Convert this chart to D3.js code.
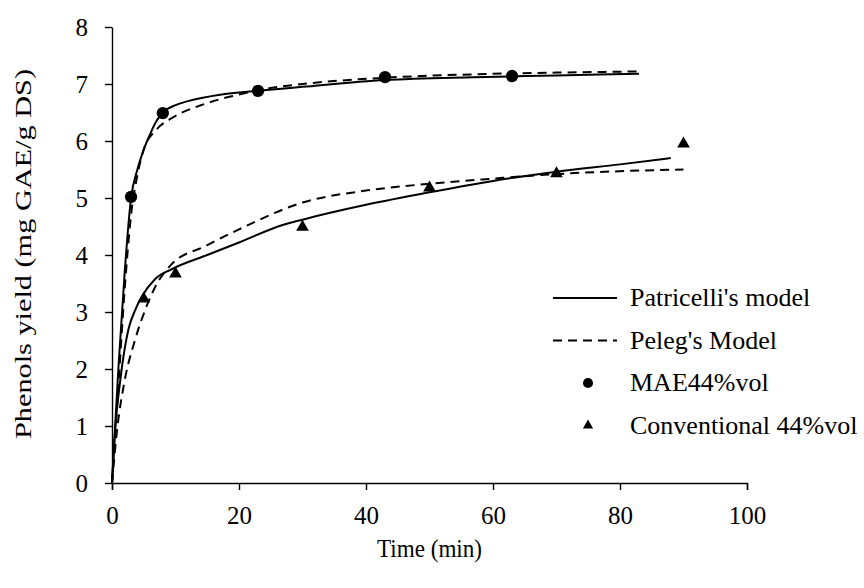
<!DOCTYPE html>
<html>
<head>
<meta charset="utf-8">
<script src="https://cdn.jsdelivr.net/npm/d3@7"></script>
<style>
  body { margin: 0; background: #fff; }
  text { font-family: "Liberation Serif", "Times New Roman", serif; fill: #000; }
</style>
</head>
<body>
<svg id="chart" width="864" height="588"></svg>
<script>
// measured points
const maeTime = [3, 8, 23, 43, 63]
const maeYield = [5.02, 6.49, 6.88, 7.12, 7.14]
const convTime = [5, 10, 30, 50, 70, 90]
const convYield = [3.23, 3.67, 4.49, 5.18, 5.43, 5.95]

// model curves
const patMaeT = [0, 1, 2, 3, 4, 5, 6, 7, 8, 10, 12, 17, 23, 30, 43, 57, 70, 83]
const patMaeY = [0, 2.0, 3.7, 5.0, 5.5, 5.85, 6.12, 6.35, 6.5, 6.63, 6.7, 6.81, 6.88, 6.95, 7.07, 7.12, 7.15, 7.18]
const pelMaeT = [0, 1, 2, 3, 4, 5, 7, 9.4, 14.6, 21, 25, 30, 43, 57, 70, 83]
const pelMaeY = [0, 1.7, 3.4, 4.7, 5.4, 5.85, 6.2, 6.4, 6.65, 6.84, 6.93, 7.0, 7.11, 7.17, 7.2, 7.22]
const patConvT = [0, 0.5, 1.3, 2.6, 3.6, 4.7, 6.8, 9.4, 15, 20, 27, 30, 40, 50, 60, 70, 80, 88]
const patConvY = [0, 0.93, 1.8, 2.7, 3.02, 3.27, 3.58, 3.75, 4.0, 4.22, 4.53, 4.62, 4.88, 5.1, 5.3, 5.46, 5.59, 5.7]
const pelConvT = [0, 0.8, 2.0, 3.6, 5.2, 6.8, 9.4, 14.6, 20, 30, 40, 50, 60, 70, 80, 90]
const pelConvY = [0, 0.93, 1.8, 2.5, 3.03, 3.44, 3.84, 4.15, 4.45, 4.92, 5.13, 5.25, 5.34, 5.42, 5.47, 5.5]

const xTicks = [0, 20, 40, 60, 80, 100]
const yTicks = [0, 1, 2, 3, 4, 5, 6, 7, 8]

const legendItems = [
    { label: "Patricelli's model", kind: "solid" },
    { label: "Peleg's Model", kind: "dashed" },
    { label: "MAE44%vol", kind: "circle" },
    { label: "Conventional 44%vol", kind: "triangle" }
]

let svg = d3.select("#chart")
let margin = { left: 112, right: 117, top: 27, bottom: 105 }
let width = 864, height = 588

let xScale = d3.scaleLinear().domain([0, 100]).range([margin.left, width - margin.right])
let yScale = d3.scaleLinear().domain([0, 8]).range([height - margin.bottom, margin.top])

// axes
let xAxis = svg.append("g")
    .attr("transform", "translate(0," + yScale(0) + ")")
    .call(d3.axisBottom(xScale).tickValues(xTicks).tickSize(7).tickPadding(16).tickSizeOuter(7))
let yAxis = svg.append("g")
    .attr("transform", "translate(" + xScale(0) + ",0)")
    .call(d3.axisLeft(yScale).tickValues(yTicks).tickSize(7).tickPadding(17).tickSizeOuter(0))

svg.selectAll(".domain, .tick line").attr("stroke", "#000").attr("stroke-width", 1.4)
svg.selectAll(".tick text")
    .style("font-family", "'Liberation Serif', serif")
    .style("font-size", "25px")
    .attr("fill", "#000")

// axis titles
svg.append("text")
    .attr("x", (xScale(0) + xScale(100)) / 2)
    .attr("y", 557)
    .attr("text-anchor", "middle")
    .attr("textLength", 105)
    .attr("lengthAdjust", "spacingAndGlyphs")
    .style("font-size", "25px")
    .text("Time (min)")
svg.append("text")
    .attr("transform", "rotate(-90)")
    .attr("x", -254)
    .attr("y", 31)
    .attr("text-anchor", "middle")
    .attr("textLength", 370)
    .attr("lengthAdjust", "spacingAndGlyphs")
    .style("font-size", "24px")
    .text("Phenols yield (mg GAE/g DS)")

// curves
let line = d3.line()
    .x(d => xScale(d[0]))
    .y(d => yScale(d[1]))
    .curve(d3.curveMonotoneX)

function drawCurve(ts, ys, dashed) {
    svg.append("path")
        .datum(d3.zip(ts, ys))
        .attr("d", line)
        .attr("fill", "none")
        .attr("stroke", "#000")
        .attr("stroke-width", 2)
        .attr("stroke-dasharray", dashed ? "9,6" : null)
}
drawCurve(pelMaeT, pelMaeY, true)
drawCurve(pelConvT, pelConvY, true)
drawCurve(patMaeT, patMaeY, false)
drawCurve(patConvT, patConvY, false)

// markers
svg.append("g").selectAll("path")
    .data(d3.zip(maeTime, maeYield))
    .join("path")
    .attr("transform", d => "translate(" + xScale(d[0]) + "," + yScale(d[1]) + ")")
    .attr("d", d3.symbol(d3.symbolCircle, 120))
    .attr("fill", "#000")
svg.append("g").selectAll("path")
    .data(d3.zip(convTime, convYield))
    .join("path")
    .attr("transform", d => "translate(" + xScale(d[0]) + "," + yScale(d[1]) + ")")
    .attr("d", d3.symbol(d3.symbolTriangle, 70))
    .attr("fill", "#000")

// legend
let legend = svg.append("g").attr("transform", "translate(553,298)")
legendItems.forEach(function (item, i) {
    let g = legend.append("g").attr("transform", "translate(0," + (i * 42.5) + ")")
    if (item.kind == "solid" || item.kind == "dashed") {
        g.append("line")
            .attr("x1", 0).attr("x2", 64)
            .attr("stroke", "#000").attr("stroke-width", 2)
            .attr("stroke-dasharray", item.kind == "dashed" ? "9,6" : null)
    } else {
        g.append("path")
            .attr("transform", "translate(35,0)")
            .attr("d", d3.symbol(item.kind == "circle" ? d3.symbolCircle : d3.symbolTriangle, item.kind == "circle" ? 80 : 45))
            .attr("fill", "#000")
    }
    g.append("text")
        .attr("x", 77)
        .attr("y", 8)
        .style("font-size", "26px")
        .text(item.label)
})
</script>
</body>
</html>
